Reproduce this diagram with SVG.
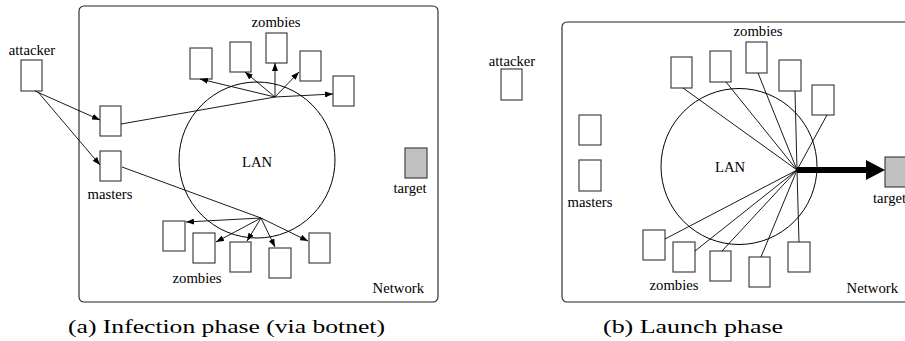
<svg xmlns="http://www.w3.org/2000/svg" width="905" height="341" viewBox="0 0 905 341">
  <style>
    .frame { fill: none; stroke: #222; stroke-width: 1.1; }
    .lan { fill: none; stroke: #000; stroke-width: 1; }
    .host { fill: #fff; stroke: #444; stroke-width: 1.2; }
    .tgt { fill: #c0c0c0; stroke: #444; stroke-width: 1.2; }
    .lbl { font-family: "Liberation Serif", "Times New Roman", serif; font-size: 14.7px; fill: #000; }
    .cap { font-family: "Liberation Serif", "Times New Roman", serif; font-size: 19px; fill: #000; }
    .link { stroke: #000; stroke-width: 0.9; fill: none; }
    .arr { marker-end: url(#head); }
  </style>
  <defs>
    <marker id="head" viewBox="0 0 8 6" refX="8" refY="3" markerWidth="8" markerHeight="6" markerUnits="userSpaceOnUse" orient="auto">
      <path d="M0,0 L8,3 L0,6 z" fill="#000"/>
    </marker>
  </defs>

  <!-- (a) infection phase -->
  <g id="panel-a">
    <g id="net-a">
      <rect class="frame" x="79" y="6" width="359" height="296" rx="5"/>
      <text class="lbl" x="424" y="293" text-anchor="end">Network</text>
    </g>
    <g id="lan-a">
      <circle class="lan" cx="257" cy="160" r="78"/>
      <text class="lbl" x="257" y="167" text-anchor="middle">LAN</text>
    </g>
    <g id="attacker-a">
      <rect class="host" x="21" y="60" width="21" height="31"/>
      <text class="lbl" x="32" y="55" text-anchor="middle">attacker</text>
    </g>
    <g id="master1-a"><rect class="host" x="100" y="106" width="21" height="30"/></g>
    <g id="master2-a">
      <rect class="host" x="100" y="151" width="21" height="30"/>
      <text class="lbl" x="110" y="199" text-anchor="middle">masters</text>
    </g>
    <g id="target-a">
      <rect class="tgt" x="405" y="148" width="22" height="30"/>
      <text class="lbl" x="410" y="193" text-anchor="middle">target</text>
    </g>
    <g id="zombies-top-a">
      <rect class="host" x="190" y="48" width="22" height="31"/>
      <rect class="host" x="230" y="42" width="21" height="30"/>
      <rect class="host" x="266" y="33" width="21" height="30"/>
      <rect class="host" x="300" y="51" width="21" height="30"/>
      <rect class="host" x="333" y="76" width="21" height="30"/>
      <text class="lbl" x="276" y="27" text-anchor="middle">zombies</text>
    </g>
    <g id="zombies-bottom-a">
      <rect class="host" x="163" y="221" width="22" height="30"/>
      <rect class="host" x="193" y="233" width="22" height="30"/>
      <rect class="host" x="230" y="242" width="21" height="30"/>
      <rect class="host" x="269" y="248" width="22" height="30"/>
      <rect class="host" x="309" y="233" width="21" height="30"/>
      <text class="lbl" x="197" y="283" text-anchor="middle">zombies</text>
    </g>
    <g id="links-a">
      <line class="link arr" x1="35" y1="91" x2="100" y2="120"/>
      <line class="link arr" x1="38" y1="92" x2="100" y2="165"/>
      <line class="link" x1="121" y1="124" x2="275" y2="97"/>
      <line class="link arr" x1="275" y1="97" x2="200" y2="79"/>
      <line class="link arr" x1="275" y1="97" x2="245" y2="72"/>
      <line class="link arr" x1="275" y1="97" x2="275" y2="63"/>
      <line class="link arr" x1="275" y1="97" x2="299" y2="72"/>
      <line class="link arr" x1="275" y1="97" x2="333" y2="94"/>
      <line class="link" x1="122" y1="167" x2="261" y2="218"/>
      <line class="link arr" x1="261" y1="218" x2="186" y2="222"/>
      <line class="link arr" x1="261" y1="218" x2="216" y2="242"/>
      <line class="link arr" x1="261" y1="218" x2="247" y2="241"/>
      <line class="link arr" x1="261" y1="218" x2="275" y2="247"/>
      <line class="link arr" x1="261" y1="218" x2="308" y2="241"/>
    </g>
    <text class="cap" x="68" y="333" textLength="317" lengthAdjust="spacingAndGlyphs">(a) Infection phase (via botnet)</text>
  </g>

  <!-- (b) launch phase -->
  <g id="panel-b">
    <g id="net-b">
      <rect class="frame" x="562" y="22" width="360" height="280" rx="5"/>
      <text class="lbl" x="898" y="293" text-anchor="end">Network</text>
    </g>
    <g id="lan-b">
      <circle class="lan" cx="739" cy="166.5" r="78"/>
      <text class="lbl" x="730" y="172" text-anchor="middle">LAN</text>
    </g>
    <g id="attacker-b">
      <rect class="host" x="501" y="69" width="21" height="31"/>
      <text class="lbl" x="512" y="66" text-anchor="middle">attacker</text>
    </g>
    <g id="master1-b"><rect class="host" x="579" y="115" width="22" height="30"/></g>
    <g id="master2-b">
      <rect class="host" x="579" y="160" width="22" height="31"/>
      <text class="lbl" x="590" y="207" text-anchor="middle">masters</text>
    </g>
    <g id="target-b">
      <rect class="tgt" x="885" y="157" width="30" height="30"/>
      <text class="lbl" x="873" y="203">target</text>
    </g>
    <g id="zombies-top-b">
      <rect class="host" x="671" y="57" width="21" height="31"/>
      <rect class="host" x="710" y="51" width="21" height="31"/>
      <rect class="host" x="746" y="42" width="21" height="31"/>
      <rect class="host" x="779" y="60" width="22" height="31"/>
      <rect class="host" x="812" y="85" width="22" height="30"/>
      <text class="lbl" x="758" y="36" text-anchor="middle">zombies</text>
    </g>
    <g id="zombies-bottom-b">
      <rect class="host" x="643" y="230" width="22" height="30"/>
      <rect class="host" x="673" y="242" width="22" height="30"/>
      <rect class="host" x="710" y="251" width="21" height="30"/>
      <rect class="host" x="749" y="257" width="21" height="30"/>
      <rect class="host" x="788" y="242" width="22" height="30"/>
      <text class="lbl" x="674" y="290" text-anchor="middle">zombies</text>
    </g>
    <g id="links-b">
      <line class="link" x1="797" y1="170" x2="683" y2="88"/>
      <line class="link" x1="797" y1="170" x2="726" y2="82"/>
      <line class="link" x1="797" y1="170" x2="758" y2="73"/>
      <line class="link" x1="797" y1="170" x2="795" y2="91"/>
      <line class="link" x1="797" y1="170" x2="827" y2="115"/>
      <line class="link" x1="797" y1="170" x2="665" y2="239"/>
      <line class="link" x1="797" y1="170" x2="695" y2="251"/>
      <line class="link" x1="797" y1="170" x2="722" y2="251"/>
      <line class="link" x1="797" y1="170" x2="761" y2="257"/>
      <line class="link" x1="797" y1="170" x2="799" y2="242"/>
      <!-- attack flow towards the target -->
      <line x1="797" y1="170" x2="868" y2="170" stroke="#000" stroke-width="6"/>
      <polygon points="866,160 885,170 866,180" fill="#000"/>
    </g>
    <text class="cap" x="603" y="333" textLength="180" lengthAdjust="spacingAndGlyphs">(b) Launch phase</text>
  </g>
</svg>
